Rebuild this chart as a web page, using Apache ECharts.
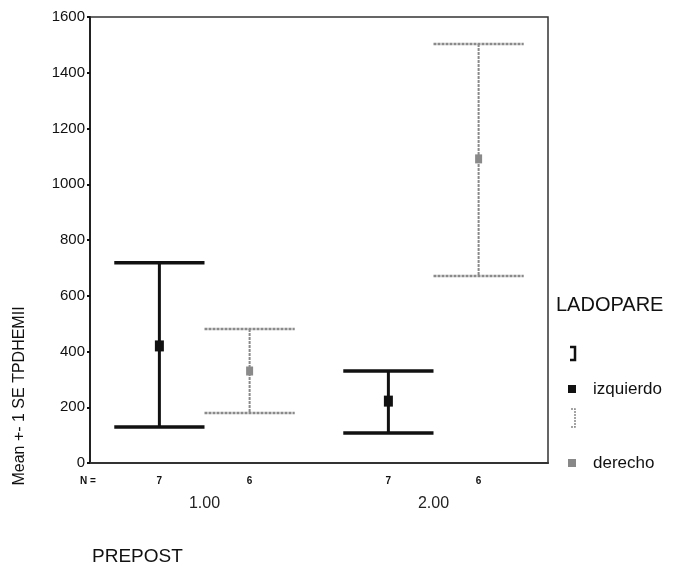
<!DOCTYPE html>
<html>
<head>
<meta charset="utf-8">
<script src="https://cdn.jsdelivr.net/npm/echarts@6/dist/echarts.min.js"></script>
<style>
  html, body { margin: 0; padding: 0; background: #fff; }
  #my_chart { width: 673px; height: 570px; }
</style>
</head>
<body>
<div id="my_chart"></div>
<script>
  // PREPOST groups
  var categories = ['1.00', '2.00'];
  // mean +- 1 SE
  var izqLow = [129, 108];
  var izqHigh = [718, 330];
  var izqMean = [420, 222];
  var derLow = [179, 671];
  var derHigh = [481, 1503];
  var derMean = [330, 1091];
  var izqN = [7, 7];
  var derN = [6, 6];
  var yTicks = [0, 200, 400, 600, 800, 1000, 1200, 1400, 1600];

  function rows(low, high, mean, n) {
    return categories.map(function (c, i) { return [i, low[i], high[i], mean[i], n[i]]; });
  }

  function errorBar(color, lw, dash, shift, markW, markH) {
    return function (params, api) {
      var ci = api.value(0);
      var band = api.size([1, 0])[0];
      var lo = api.coord([ci, api.value(1)]);
      var hi = api.coord([ci, api.value(2)]);
      var mid = api.coord([ci, api.value(3)]);
      var base = api.coord([ci, 0]);
      var x = lo[0] + band * shift;
      var half = band * 0.197;
      var st = { stroke: color, lineWidth: lw, lineDash: dash };
      return {
        type: 'group',
        children: [
          { type: 'line', shape: { x1: x, y1: hi[1], x2: x, y2: lo[1] }, style: { stroke: color, lineWidth: lw - 0.5, lineDash: dash } },
          { type: 'line', shape: { x1: x - half, y1: hi[1], x2: x + half, y2: hi[1] }, style: st },
          { type: 'line', shape: { x1: x - half, y1: lo[1], x2: x + half, y2: lo[1] }, style: st },
          { type: 'rect', shape: { x: x - markW / 2, y: mid[1] - markH / 2, width: markW, height: markH }, style: { fill: color } },
          { type: 'text', x: x, y: base[1] + 18, style: { text: String(api.value(4)), fill: '#111', font: 'bold 10px Arial', align: 'center', verticalAlign: 'middle' } }
        ]
      };
    };
  }

  var my_chart = echarts.init(document.getElementById('my_chart'));

  my_chart.setOption({
    animation: false,
    grid: { left: 90, right: 125, top: 17, bottom: 107, show: true, borderColor: '#333', borderWidth: 1.5 },
    xAxis: {
      type: 'category',
      data: categories,
      axisLine: { lineStyle: { color: '#333', width: 2 } },
      axisTick: { alignWithLabel: true, length: 4, lineStyle: { color: '#111', width: 3 } },
      axisLabel: { margin: 33, fontSize: 16, fontFamily: 'Arial', color: '#222' },
      splitLine: { show: false }
    },
    yAxis: {
      type: 'value',
      min: 0,
      max: 1600,
      interval: 200,
      axisLine: { show: true, lineStyle: { color: '#222', width: 2 } },
      axisTick: { show: true, length: 3, lineStyle: { color: '#111', width: 2 } },
      axisLabel: { margin: 5, fontSize: 15, fontFamily: 'Arial', color: '#111',
        formatter: function (v) { return yTicks.indexOf(v) >= 0 ? String(v) : ''; } },
      splitLine: { show: false }
    },
    legend: {
      orient: 'vertical',
      left: 563,
      top: 375,
      itemWidth: 8,
      itemHeight: 8,
      itemGap: 56,
      icon: 'rect',
      textStyle: { fontSize: 17, fontFamily: 'Arial', color: '#111', lineHeight: 18, padding: [0, 0, 0, 12] },
      data: ['izquierdo', 'derecho']
    },
    graphic: [
      { type: 'text', x: 20, y: 396, rotation: Math.PI / 2,
        style: { text: 'Mean +- 1 SE TPDHEMII', font: '16px Arial', fill: '#111', align: 'center', verticalAlign: 'middle' } },
      { type: 'text', x: 92, y: 557,
        style: { text: 'PREPOST', font: '19px Arial', fill: '#111', verticalAlign: 'middle' } },
      { type: 'text', x: 80, y: 481,
        style: { text: 'N =', font: 'bold 10px Arial', fill: '#111', verticalAlign: 'middle' } },
      { type: 'text', x: 556, y: 305,
        style: { text: 'LADOPARE', font: '20px Arial', fill: '#111', verticalAlign: 'middle' } },
      { type: 'polyline', shape: { points: [[570, 347], [575, 347], [575, 360], [570, 360]] },
        style: { stroke: '#111', lineWidth: 2.5, fill: null } },
      { type: 'polyline', shape: { points: [[571, 409], [575, 409], [575, 427], [571, 427]] },
        style: { stroke: '#888', lineWidth: 1.5, fill: null, lineDash: [2, 1] } }
    ],
    series: [
      {
        name: 'izquierdo',
        type: 'custom',
        clip: false,
        itemStyle: { color: '#111' },
        data: rows(izqLow, izqHigh, izqMean, izqN),
        renderItem: errorBar('#111', 3.5, null, -0.197, 9, 11)
      },
      {
        name: 'derecho',
        type: 'custom',
        clip: false,
        itemStyle: { color: '#888' },
        data: rows(derLow, derHigh, derMean, derN),
        renderItem: errorBar('#8a8a8a', 2.5, [3, 1], 0.197, 7, 9)
      }
    ]
  });
</script>
</body>
</html>
